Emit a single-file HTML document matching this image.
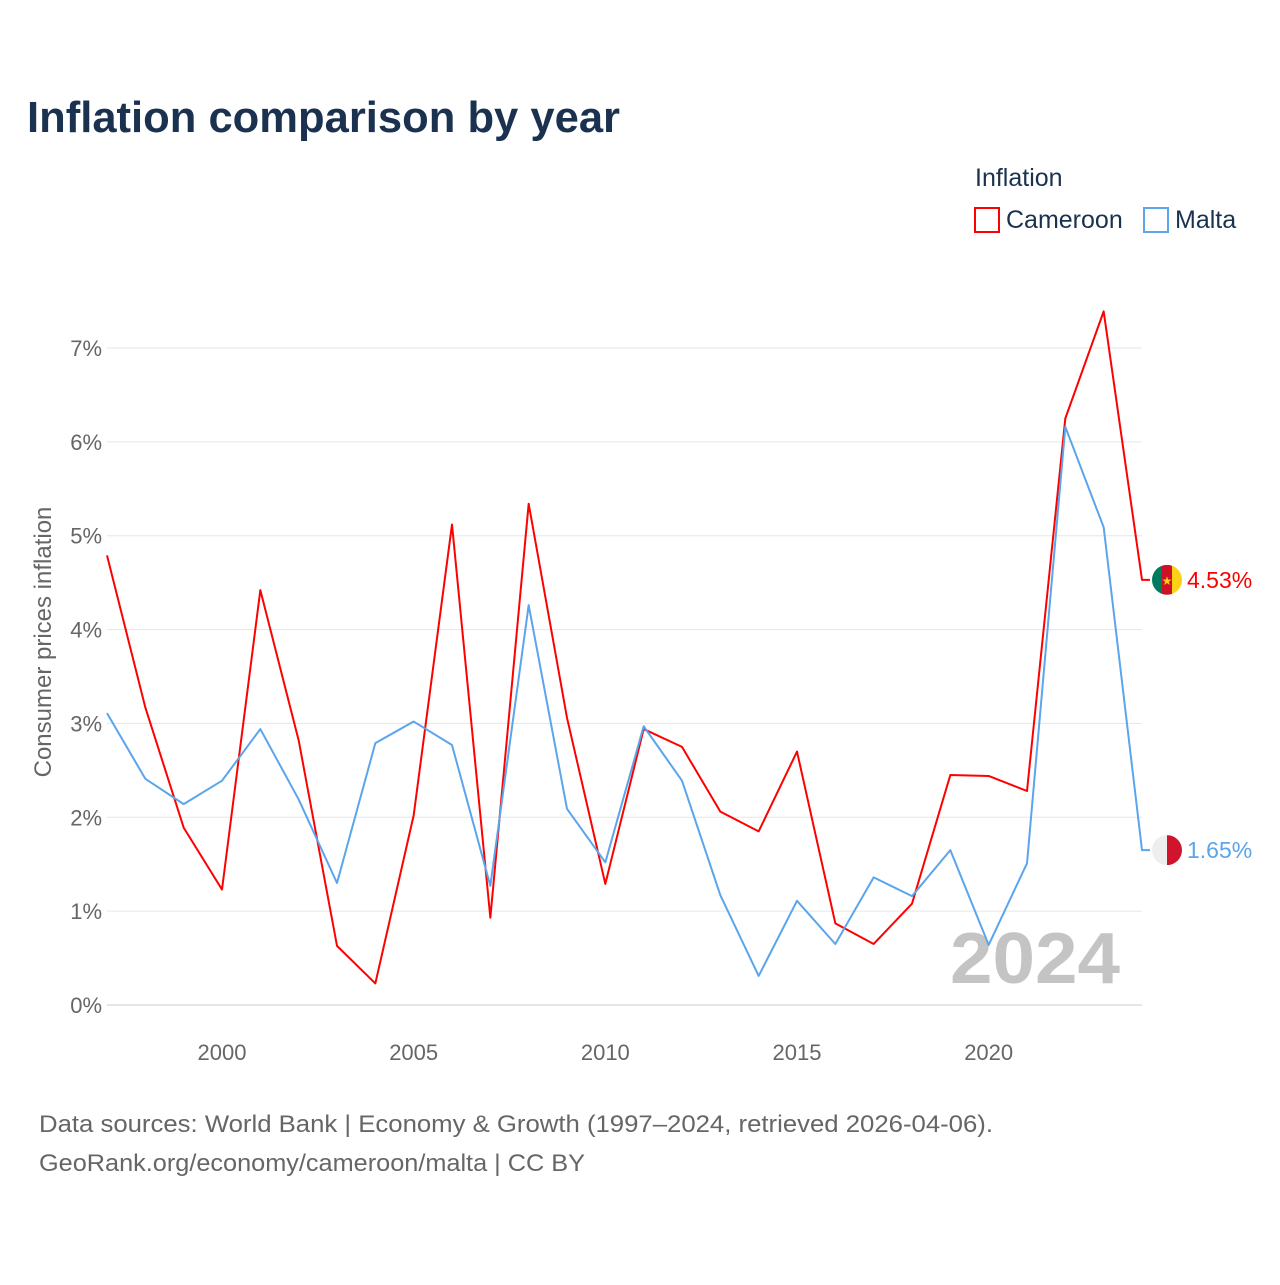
<!DOCTYPE html>
<html><head><meta charset="utf-8"><style>
body{margin:0;background:#fff;font-family:"Liberation Sans",sans-serif}
svg text{font-family:"Liberation Sans",sans-serif}
</style></head><body>
<svg id="chart" width="1280" height="1280" xmlns="http://www.w3.org/2000/svg">
<text x="27" y="132" font-size="44" font-weight="bold" fill="#1a3150" textLength="593" lengthAdjust="spacingAndGlyphs">Inflation comparison by year</text>
<text x="975" y="186" font-size="25" fill="#1a3150">Inflation</text>
<rect x="975" y="208" width="24" height="24" fill="none" stroke="#ff0000" stroke-width="2"/>
<text x="1006" y="228" font-size="25" fill="#1a3150">Cameroon</text>
<rect x="1144" y="208" width="24" height="24" fill="none" stroke="#5aa5eb" stroke-width="2"/>
<text x="1175" y="228" font-size="25" fill="#1a3150">Malta</text>
<text transform="translate(51,642) rotate(-90)" text-anchor="middle" font-size="24" fill="#666">Consumer prices inflation</text>
<g id="grid"></g>
<text x="950" y="983" font-size="72" font-weight="bold" fill="#c4c4c4" textLength="170" lengthAdjust="spacingAndGlyphs">2024</text>
<g id="series"></g>
<text x="39" y="1132" font-size="24" fill="#666" textLength="954" lengthAdjust="spacingAndGlyphs">Data sources: World Bank | Economy &amp; Growth (1997–2024, retrieved 2026-04-06).</text>
<text x="39" y="1171" font-size="24" fill="#666" textLength="546" lengthAdjust="spacingAndGlyphs">GeoRank.org/economy/cameroon/malta | CC BY</text>
</svg>
<script>
const years=[1997,1998,1999,2000,2001,2002,2003,2004,2005,2006,2007,2008,2009,2010,2011,2012,2013,2014,2015,2016,2017,2018,2019,2020,2021,2022,2023,2024];
const cameroon=[4.79,3.17,1.89,1.23,4.42,2.82,0.63,0.23,2.02,5.12,0.93,5.34,3.06,1.29,2.94,2.75,2.06,1.85,2.70,0.87,0.65,1.08,2.45,2.44,2.28,6.25,7.39,4.53];
const malta=[3.11,2.41,2.14,2.39,2.94,2.19,1.30,2.79,3.02,2.77,1.27,4.26,2.09,1.52,2.97,2.39,1.17,0.31,1.11,0.65,1.36,1.16,1.65,0.64,1.51,6.16,5.09,1.65];
const yTicks=[0,1,2,3,4,5,6,7];
const xTicks=[2000,2005,2010,2015,2020];
const NS="http://www.w3.org/2000/svg";
const x=v=>107+(v-1997)*(1142-107)/27;
const y=v=>1005-v*(1005-348)/7;
function mk(tag,attrs,parent){const e=document.createElementNS(NS,tag);for(const k in attrs)e.setAttribute(k,attrs[k]);parent.appendChild(e);return e;}
const grid=document.getElementById('grid');
yTicks.forEach(t=>{
  const l=mk('line',{x1:107,x2:1142,y1:y(t),y2:y(t),stroke:t===0?'#ccc':'#e6e6e6','stroke-width':1},grid);
  
  
  const tx=mk('text',{x:102,y:y(t)+8,'text-anchor':'end','font-size':22,fill:'#666'},grid);
  
  
  tx.textContent=t+'%';
});
xTicks.forEach(t=>{
  const tx=mk('text',{x:x(t),y:1060,'text-anchor':'middle','font-size':22,fill:'#666'},grid);
  
  
  tx.textContent=t;
});
const g=document.getElementById('series');
function series(vals,color,name){
  const pts=vals.map((v,i)=>x(years[i])+','+y(v));
  const last=vals[vals.length-1];
  pts.push((x(2024)+8)+','+y(last));
  const p=mk('polyline',{points:pts.join(' '),fill:'none',stroke:color,'stroke-width':2,'stroke-linejoin':'round'},g);
  
  
  const tx=mk('text',{x:1187,y:y(last)+8,'font-size':23,fill:color},g);
  
  
  tx.textContent=last.toFixed(2)+'%';
  return y(last);
}
const cy=series(cameroon,'#ff0000','cameroon');
const my=series(malta,'#5aa5eb','malta');
const f1=mk('g',{},g);


mk('clipPath',{id:'c1'},f1).appendChild(document.createElementNS(NS,'circle'));
const c1=f1.querySelector('clipPath circle');c1.setAttribute('cx',1167);c1.setAttribute('cy',cy);c1.setAttribute('r',15);
const gg=mk('g',{'clip-path':'url(#c1)'},f1);
mk('rect',{x:1152,y:cy-15,width:10,height:30,fill:'#007a5e'},gg);
mk('rect',{x:1162,y:cy-15,width:10,height:30,fill:'#ce1126'},gg);
mk('rect',{x:1172,y:cy-15,width:10,height:30,fill:'#fcd116'},gg);
mk('text',{x:1167,y:cy+5,'text-anchor':'middle','font-size':12,fill:'#fcd116'},gg).textContent='★';
const f2=mk('g',{},g);


mk('clipPath',{id:'c2'},f2).appendChild(document.createElementNS(NS,'circle'));
const c2=f2.querySelector('clipPath circle');c2.setAttribute('cx',1167);c2.setAttribute('cy',my);c2.setAttribute('r',15);
const g2=mk('g',{'clip-path':'url(#c2)'},f2);
mk('rect',{x:1152,y:my-15,width:15,height:30,fill:'#eeeeee'},g2);
mk('rect',{x:1167,y:my-15,width:15,height:30,fill:'#cf142b'},g2);
</script>
</body></html>
